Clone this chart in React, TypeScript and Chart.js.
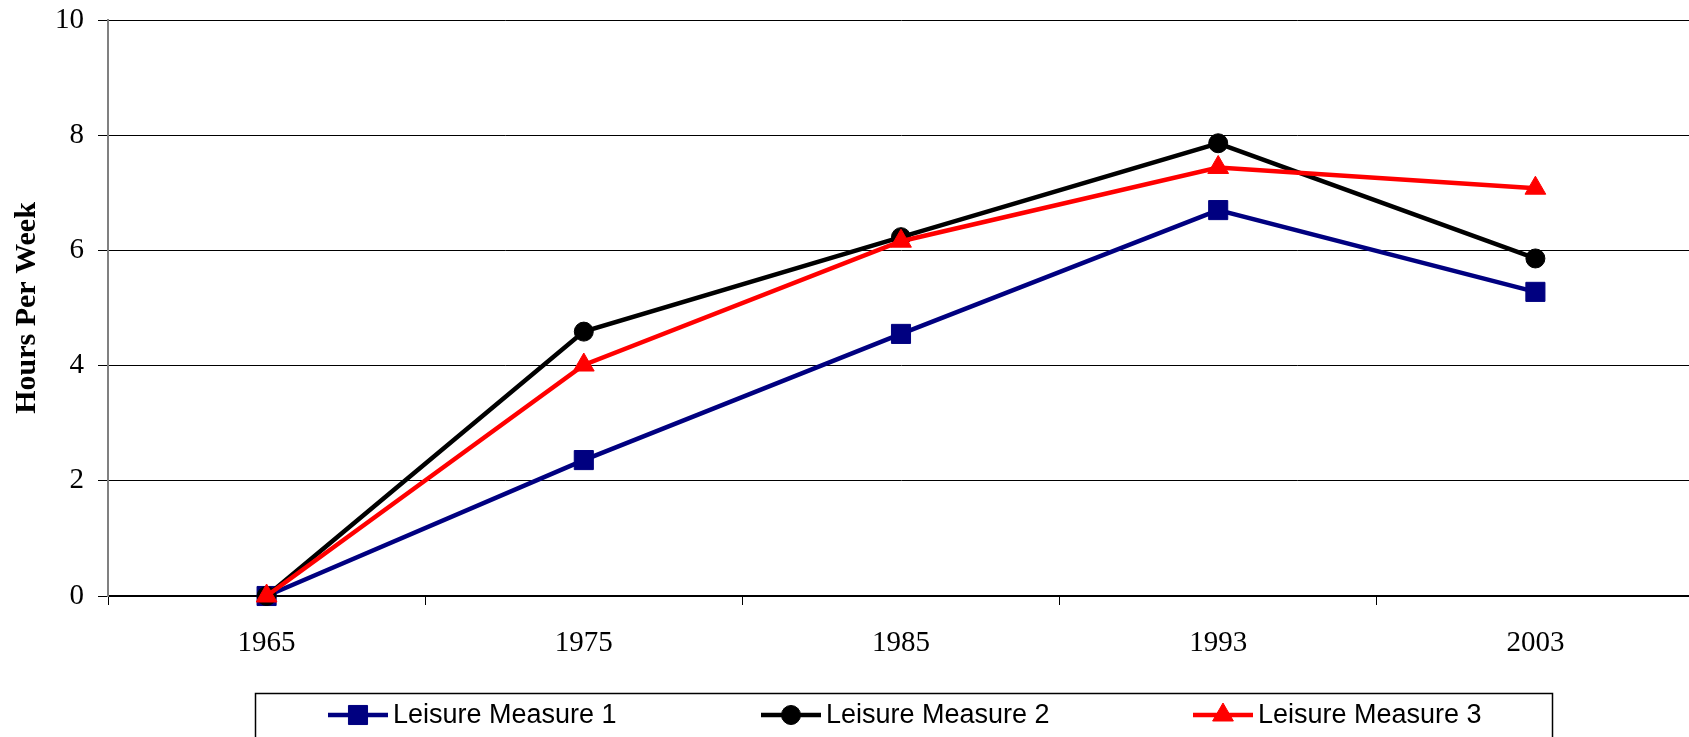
import React, { useEffect, useRef } from "react";
import { Chart, registerables } from "chart.js";
import * as helpers from "chart.js/helpers";

Chart.register(...registerables);

const categories = ["1965", "1975", "1985", "1993", "2003"];
const measure1 = [0, 2.36, 4.55, 6.7, 5.28];
const measure2 = [0, 4.59, 6.23, 7.86, 5.86];
const measure3 = [0, 4.01, 6.16, 7.44, 7.08];
const seriesNames = ["Leisure Measure 1", "Leisure Measure 2", "Leisure Measure 3"];
const yTitle = "Hours Per Week";

const serif = "'Liberation Serif', 'Times New Roman', serif";
const sans = "'Liberation Sans', Arial, sans-serif";

const legendPlugin = {
  id: "boxLegend",
  afterDraw(chart: any) {
    const ctx = chart.ctx;
    ctx.save();
    ctx.strokeStyle = "#000";
    ctx.lineWidth = 1.5;
    ctx.strokeRect(255.5, 693.5, 1297, 100);
    const starts = [328, 761, 1193];
    const y = 715;
    chart.data.datasets.forEach((ds: any, i: number) => {
      const x0 = starts[i];
      ctx.strokeStyle = ds.borderColor;
      ctx.lineWidth = ds.borderWidth;
      ctx.beginPath();
      ctx.moveTo(x0, y);
      ctx.lineTo(x0 + 60, y);
      ctx.stroke();
      ctx.fillStyle = ds.pointBackgroundColor;
      ctx.strokeStyle = ds.pointBorderColor;
      ctx.lineWidth = 1;
      helpers.drawPoint(ctx, { pointStyle: ds.pointStyle, radius: ds.pointRadius, rotation: 0, borderWidth: 1 }, x0 + 30, y);
      ctx.fillStyle = "#000";
      ctx.font = `27px ${sans}`;
      ctx.textBaseline = "middle";
      ctx.textAlign = "left";
      ctx.fillText(ds.label, x0 + 65, y + 1);
    });
    ctx.restore();
  },
};

export default function App() {
  const ref = useRef<HTMLCanvasElement>(null);
  useEffect(() => {
    const canvas = ref.current!;
    const chart = new Chart(canvas, {
      type: "line",
      data: {
        labels: categories,
        datasets: [
          {
            label: seriesNames[0],
            data: measure1,
            borderColor: "#000080",
            backgroundColor: "#000080",
            pointBackgroundColor: "#000080",
            pointBorderColor: "#000080",
            pointStyle: "rect",
            pointRadius: 13.5,
            pointBorderWidth: 1,
            borderWidth: 4.5,
            tension: 0,
            clip: false,
            order: 2,
          },
          {
            label: seriesNames[1],
            data: measure2,
            borderColor: "#000000",
            backgroundColor: "#000000",
            pointBackgroundColor: "#000000",
            pointBorderColor: "#000000",
            pointStyle: "circle",
            pointRadius: 9.5,
            pointBorderWidth: 1,
            borderWidth: 4.5,
            tension: 0,
            clip: false,
            order: 1,
          },
          {
            label: seriesNames[2],
            data: measure3,
            borderColor: "#FF0000",
            backgroundColor: "#FF0000",
            pointBackgroundColor: "#FF0000",
            pointBorderColor: "#FF0000",
            pointStyle: "triangle",
            pointRadius: 12,
            pointBorderWidth: 1,
            borderWidth: 4.5,
            tension: 0,
            clip: false,
            order: 0,
          },
        ],
      },
      options: {
        responsive: false,
        animation: false,
        devicePixelRatio: 1,
        layout: { autoPadding: false, padding: { top: 20, left: 0, right: 0, bottom: 0 } },
        plugins: {
          legend: { display: false },
          tooltip: { enabled: false },
        },
        scales: {
          x: {
            type: "category",
            offset: true,
            grid: {
              offset: true,
              drawOnChartArea: false,
              drawTicks: true,
              tickLength: 9,
              color: "#000",
              lineWidth: 1,
            },
            border: { color: "#000", width: 2 },
            ticks: {
              color: "#000",
              font: { family: serif, size: 29 },
              padding: 21,
              maxRotation: 0,
            },
            afterFit(scale: any) {
              scale.height = 141;
              scale.paddingLeft = 0;
              scale.paddingRight = 0;
            },
          },
          y: {
            min: 0,
            max: 10,
            ticks: {
              stepSize: 2,
              color: "#000",
              font: { family: serif, size: 29 },
              padding: 14,
            },
            grid: {
              color: "#000",
              lineWidth: 1,
              tickLength: 10,
            },
            border: { color: "#808080", width: 2 },
            title: {
              display: true,
              text: yTitle,
              color: "#000",
              font: { family: serif, size: 30, weight: "bold" },
              padding: { top: 9, bottom: 0 },
            },
            afterFit(scale: any) {
              scale.width = 108;
              scale.paddingTop = 0;
              scale.paddingBottom = 0;
            },
          },
        },
      },
      plugins: [legendPlugin],
    });
    return () => chart.destroy();
  }, []);
  return (
    <div
      style={{
        position: "fixed",
        left: 0,
        top: 0,
        width: 1689,
        height: 737,
        overflow: "hidden",
        background: "#fff",
      }}
    >
      <canvas ref={ref} width={1694} height={737} style={{ display: "block", width: 1694, height: 737 }} />
    </div>
  );
}
